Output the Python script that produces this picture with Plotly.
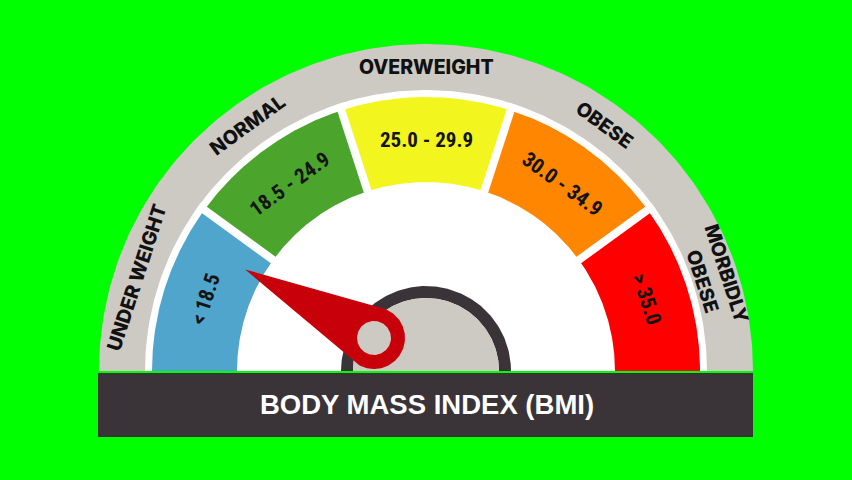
import numpy as np
import plotly.graph_objects as go

# ---------------- data ----------------
categories = ["UNDER WEIGHT", "NORMAL", "OVERWEIGHT", "OBESE", "MORBIDLY<br>OBESE"]
range_labels = ["< 18.5", "18.5 - 24.9", "25.0 - 29.9", "30.0 - 34.9", "> 35.0"]
segment_colors = ["#50A5CD", "#4BA52D", "#F2F51E", "#FF8600", "#FE0000"]
title_text = "BODY MASS INDEX (BMI)"
needle_angle_deg = 152.0   # needle direction (degrees, 180 = far left)

# ---------------- geometry (pixel-like units) ----------------
W, H = 852, 480
cx, cy = 426, H - 371
R_GRAY_OUT, R_WHITE_OUT = 327, 281
R_SEG_OUT, R_SEG_IN = 274, 189
R_HUB_OUT, R_HUB_IN = 85, 73
PIVOT = (374, H - 338)
PIVOT_R, PIVOT_HOLE = 31, 17
NEEDLE_LEN = 146

BG = "#00FF00"
GRAY = "#CDC9C3"
DARK = "#3A3439"
NEEDLE = "#C8000A"

n = len(categories)
span = 180.0 / n
starts = [180.0 - i * span for i in range(n)]
ends = [s - span for s in starts]
mids = [(s + e) / 2 for s, e in zip(starts, ends)]

fig = go.Figure()


def sector(r_in, r_out, a0, a1, color, center=(cx, cy), npts=180):
    t = np.radians(np.linspace(a0, a1, npts))
    xo = center[0] + r_out * np.cos(t)
    yo = center[1] + r_out * np.sin(t)
    if r_in > 0:
        xi = center[0] + r_in * np.cos(t[::-1])
        yi = center[1] + r_in * np.sin(t[::-1])
    else:
        xi = np.array([center[0]])
        yi = np.array([center[1]])
    xs = np.concatenate([xo, xi, xo[:1]])
    ys = np.concatenate([yo, yi, yo[:1]])
    fig.add_trace(go.Scatter(x=xs, y=ys, mode="lines", fill="toself",
                             fillcolor=color, line=dict(width=0, color=color),
                             hoverinfo="skip", showlegend=False))


# outer gray band and white backing
sector(0, R_GRAY_OUT, 180, 0, GRAY)
sector(0, R_WHITE_OUT, 180, 0, "white")

# coloured category segments
for a0, a1, col in zip(starts, ends, segment_colors):
    sector(R_SEG_IN, R_SEG_OUT, a0, a1, col)

# white separators between segments
for a in starts[1:]:
    t = np.radians(a)
    fig.add_trace(go.Scatter(
        x=[cx + (R_SEG_IN - 4) * np.cos(t), cx + R_WHITE_OUT * np.cos(t)],
        y=[cy + (R_SEG_IN - 4) * np.sin(t), cy + R_WHITE_OUT * np.sin(t)],
        mode="lines", line=dict(color="white", width=8),
        hoverinfo="skip", showlegend=False))

# hub
sector(R_HUB_IN, R_HUB_OUT, 180, 0, DARK)
sector(0, R_HUB_IN, 180, 0, GRAY)

# needle
a = np.radians(needle_angle_deg)
tip = (PIVOT[0] + NEEDLE_LEN * np.cos(a), PIVOT[1] + NEEDLE_LEN * np.sin(a))
phi = np.arccos(PIVOT_R / NEEDLE_LEN)
arc = np.linspace(a + phi, a + 2 * np.pi - phi, 120)
nx = np.concatenate([[tip[0]], PIVOT[0] + PIVOT_R * np.cos(arc), [tip[0]]])
ny = np.concatenate([[tip[1]], PIVOT[1] + PIVOT_R * np.sin(arc), [tip[1]]])
fig.add_trace(go.Scatter(x=nx, y=ny, mode="lines", fill="toself",
                         fillcolor=NEEDLE, line=dict(width=0, color=NEEDLE),
                         hoverinfo="skip", showlegend=False))
sector(0, PIVOT_HOLE, 0, 360, GRAY, center=PIVOT)

# bottom bar
fig.add_shape(type="rect", xref="x", yref="y", x0=98, x1=753, y0=H - 437, y1=H - 373,
              fillcolor=DARK, line=dict(width=0), layer="above")
fig.add_annotation(x=427, y=H - 404, xref="x", yref="y", text=f"<b>{title_text}</b>",
                   showarrow=False, font=dict(family="Liberation Sans, Arial, sans-serif",
                                              size=27.5, color="white"))

# labels
R_CAT = (R_GRAY_OUT + R_WHITE_OUT) / 2
R_RNG = (R_SEG_OUT + R_SEG_IN) / 2
for cat, rng, m in zip(categories, range_labels, mids):
    t = np.radians(m)
    ang = 90 - m
    fig.add_annotation(x=cx + R_CAT * np.cos(t), y=cy + R_CAT * np.sin(t), xref="x", yref="y",
                       text=cat, textangle=ang, showarrow=False, align="center",
                       font=dict(family="Inter, Open Sans, sans-serif", size=19.5,
                                 weight=800, color="#111111"))
    fig.add_annotation(x=cx + R_RNG * np.cos(t), y=cy + R_RNG * np.sin(t), xref="x", yref="y",
                       text=rng, textangle=ang, showarrow=False,
                       font=dict(family="Roboto Condensed, Open Sans Condensed, sans-serif",
                                 size=21, weight="bold", color="#141414"))

fig.update_layout(
    width=W, height=H, margin=dict(l=0, r=0, t=0, b=0),
    paper_bgcolor=BG, plot_bgcolor=BG,
    xaxis=dict(range=[0, W], visible=False, fixedrange=True),
    yaxis=dict(range=[0, H], visible=False, fixedrange=True),
    showlegend=False,
)

fig.write_html("out.html", config={"displayModeBar": False},
               post_script="document.body.style.margin='0';document.body.style.overflow='hidden';"
                           "document.body.style.background='#00FF00';")
